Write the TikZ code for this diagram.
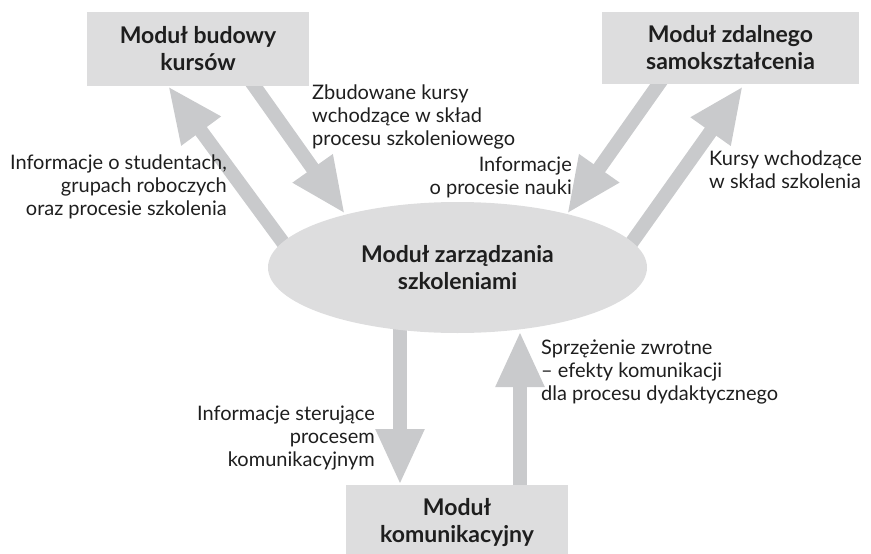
\documentclass[tikz,border=0pt]{standalone}
\usepackage{fontspec}
\setmainfont{Lato}
\usetikzlibrary{arrows.meta,shapes.geometric}
\definecolor{boxgray}{RGB}{221,221,222}
\definecolor{arrowgray}{RGB}{201,202,204}
\definecolor{txt}{RGB}{30,30,30}
\begin{document}
\begin{tikzpicture}[x=1pt,y=-1pt,
  modbox/.style={fill=boxgray,draw=none,inner sep=0pt,align=center,text=txt,
    font=\fontsize{23}{27}\selectfont\bfseries},
  flow/.style={draw=arrowgray,line width=14pt,-{Triangle[length=56pt,width=45pt]}},
  lbl/.style={inner sep=0pt,text=txt,font=\fontsize{20}{23}\selectfont},
  lblr/.style={lbl,align=right,anchor=east},
  lbll/.style={lbl,align=left,anchor=west}]
\useasboundingbox (0,0) rectangle (871,554);
\clip (0,0) rectangle (871,554);
% anchor coordinates of the arrows
\coordinate (a1s) at (290,252);  \coordinate (a1e) at (168,86);
\coordinate (a2s) at (250,80);   \coordinate (a2e) at (345,214);
\coordinate (a3s) at (663,78);   \coordinate (a3e) at (567,214);
\coordinate (a4s) at (625,252);  \coordinate (a4e) at (743,86);
\coordinate (a5s) at (400,320);  \coordinate (a5e) at (400,485);
\coordinate (a6s) at (520,495);  \coordinate (a6e) at (520,331);
% arrows
\draw[flow] (a1s) -- (a1e);
\draw[flow] (a2s) -- (a2e);
\draw[flow] (a3s) -- (a3e);
\draw[flow] (a4s) -- (a4e);
\draw[flow] (a5s) -- (a5e);
\draw[flow] (a6s) -- (a6e);
% modules
\node[modbox,minimum width=222pt,minimum height=74pt] (bud) at (198,49) {Moduł budowy\\kursów};
\node[modbox,minimum width=257pt,minimum height=72pt] (zdal) at (730.5,48) {Moduł zdalnego\\samokształcenia};
\node[modbox,ellipse,minimum width=379pt,minimum height=131pt] (zarz) at (457.5,267.5) {Moduł zarządzania\\szkoleniami};
\node[modbox,minimum width=222pt,minimum height=76pt] (kom) at (457,523) {Moduł\\komunikacyjny};
% labels
\node[lbll] (l1) at (312,117) {Zbudowane kursy\\wchodzące w skład\\procesu szkoleniowego};
\node[lblr] (l2) at (227,187) {Informacje o studentach,\\grupach roboczych\\oraz procesie szkolenia};
\node[lblr] (l3) at (572,177) {Informacje\\o procesie nauki};
\node[lbll] (l4) at (709,170) {Kursy wchodzące\\w skład szkolenia};
\node[lbll] (l5) at (541,372) {Sprzężenie zwrotne\\– efekty komunikacji\\dla procesu dydaktycznego};
\node[lblr] (l6) at (375,438) {Informacje sterujące\\procesem\\komunikacyjnym};
\end{tikzpicture}
\end{document}
